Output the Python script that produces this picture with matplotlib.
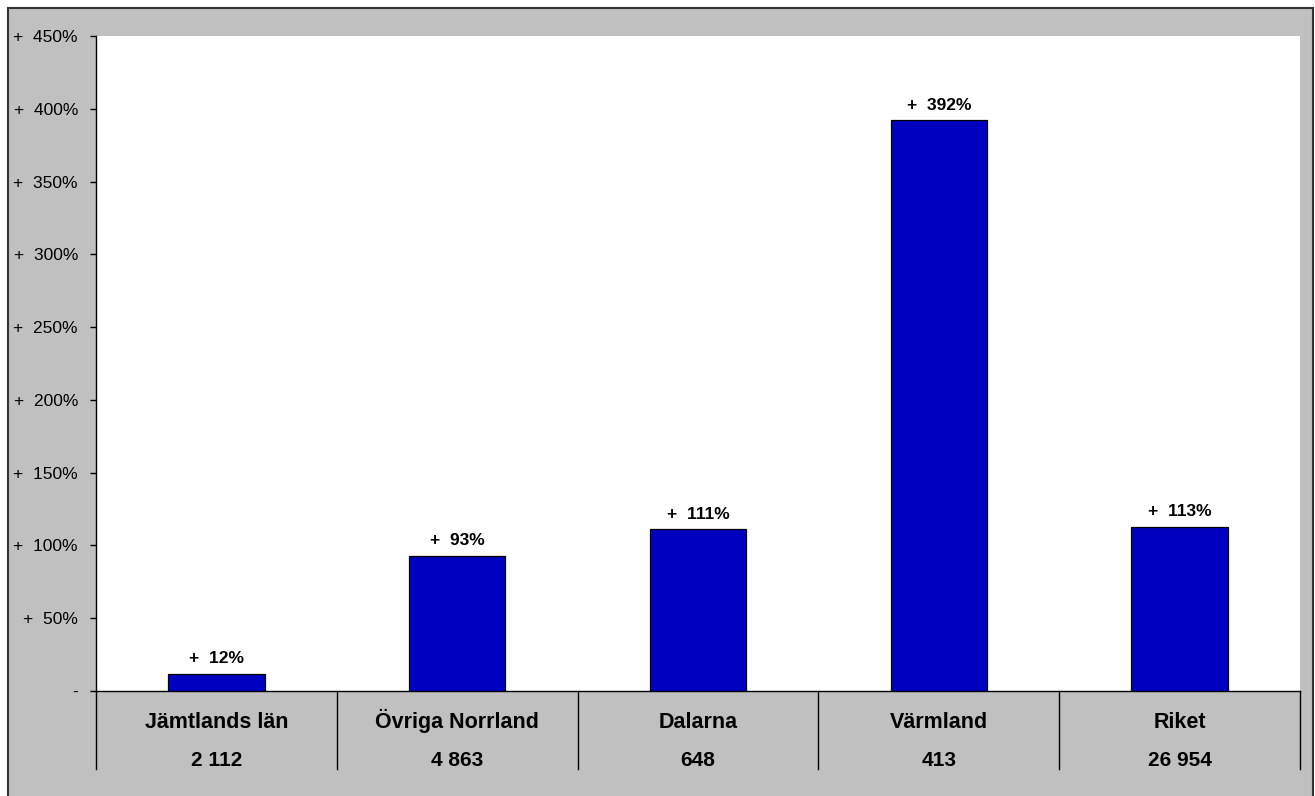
import matplotlib
matplotlib.use("Agg")
import matplotlib.pyplot as plt
from matplotlib.patches import Rectangle

categories = ["Jämtlands län", "Övriga Norrland", "Dalarna", "Värmland", "Riket"]
counts = ["2 112", "4 863", "648", "413", "26 954"]
values = [12, 93, 111, 392, 113]
yticks = [0, 50, 100, 150, 200, 250, 300, 350, 400, 450]
ytick_labels = ["-"] + [f"+  {v}%" for v in yticks[1:]]

W, H = 1315, 796
plt.rcParams['font.family'] = ['Liberation Sans', 'DejaVu Sans']
fig = plt.figure(figsize=(W / 100, H / 100), dpi=100)
fig.patch.set_facecolor("white")

# gray chart area with border
fig.patches.append(Rectangle((8 / W, -0.02), (1313 - 8) / W, (796 - 8) / H + 0.02,
                             transform=fig.transFigure, facecolor="#C0C0C0",
                             edgecolor="#333333", linewidth=1.5, zorder=-10))

left, right, top, zero = 96, 1300, 36, 691
ax = fig.add_axes([left / W, (H - zero) / H, (right - left) / W, (zero - top) / H])
ax.set_zorder(1)
ax.set_facecolor("white")

x = list(range(len(categories)))
ax.bar(x, values, width=0.4, color="#0000C0", edgecolor="black", linewidth=0.9, zorder=3)
for xi, v in zip(x, values):
    ax.text(xi, v + 5, f"+  {v}%", ha="center", va="bottom", fontsize=12.5,
            fontweight="bold", color="black")

ax.set_xlim(-0.5, len(categories) - 0.5)
ax.set_ylim(0, 450)
ax.set_yticks(yticks)
ax.set_yticklabels(ytick_labels, fontsize=12.5)
ax.tick_params(axis="y", direction="out", length=4.5, width=1, pad=8.5, color="black")
ax.set_xticks([])

for s in ["top", "right"]:
    ax.spines[s].set_visible(False)
ax.spines["left"].set_linewidth(1)
ax.spines["bottom"].set_linewidth(1)

# category table below axis
def px_to_data(py):
    return -(py - zero) / (zero - top) * 450

ybot = px_to_data(769)
for b in [i - 0.5 for i in range(len(categories) + 1)]:
    ax.plot([b, b], [0, ybot], color="black", linewidth=1, clip_on=False)
y_name = px_to_data(728)
y_num = px_to_data(766)
for xi, c, n in zip(x, categories, counts):
    ax.text(xi, y_name, c, ha="center", va="baseline", fontsize=15.5, fontweight="bold", clip_on=False)
    ax.text(xi, y_num, n, ha="center", va="baseline", fontsize=15, fontweight="bold", clip_on=False)

fig.savefig("out.png", dpi=100)
